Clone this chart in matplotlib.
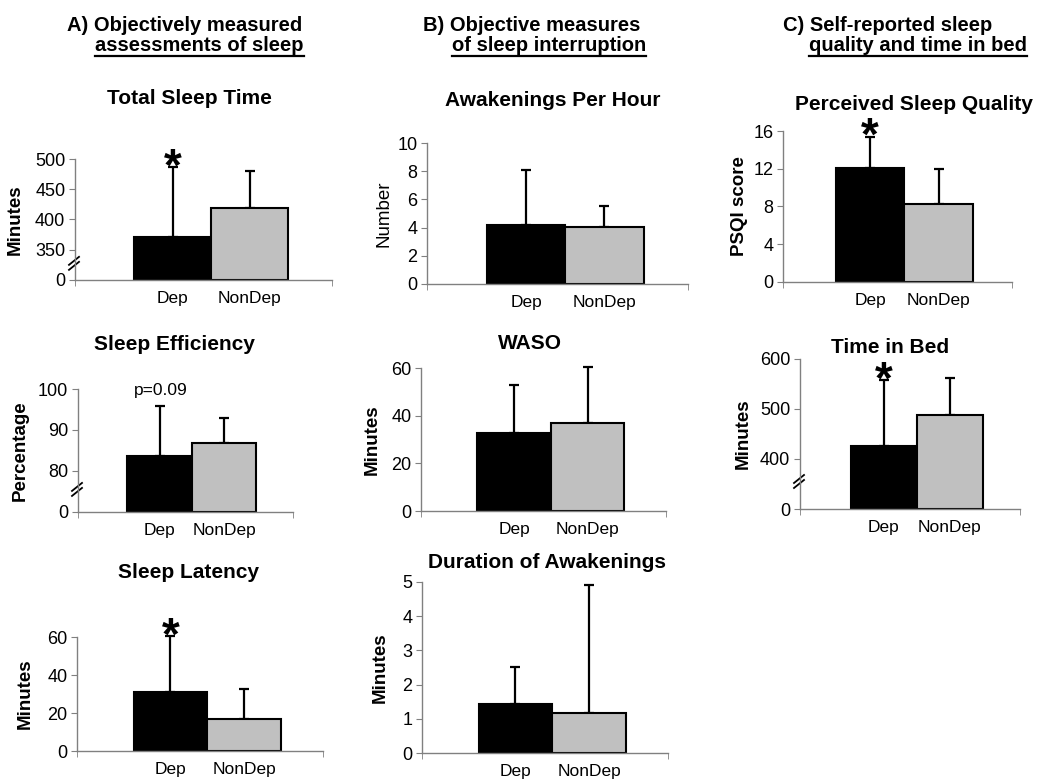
import numpy as np
import matplotlib
matplotlib.use("Agg")
import matplotlib.pyplot as plt
from matplotlib.lines import Line2D

plt.rcParams['font.family'] = ['Liberation Sans', 'DejaVu Sans']

W, H = 1050, 783

# data: [Dep, NonDep] means and upper SD for each panel
groups = ["Dep", "NonDep"]
titles = ["Total Sleep Time", "Sleep Efficiency", "Sleep Latency",
          "Awakenings Per Hour", "WASO", "Duration of Awakenings",
          "Perceived Sleep Quality", "Time in Bed"]
ylabels = ["Minutes", "Percentage", "Minutes",
           "Number", "Minutes", "Minutes",
           "PSQI score", "Minutes"]
means = [[371, 418.5], [83.7, 86.8], [31.1, 16.8],
         [4.17, 4.03], [32.9, 37.1], [1.43, 1.18],
         [12.05, 8.3], [425, 488]]
sds = [[115, 62], [12.2, 6.1], [29.4, 15.9],
       [3.89, 1.47], [19.8, 23.4], [1.08, 3.74],
       [3.32, 3.7], [132, 74]]
yticks = [[0, 350, 400, 450, 500], [0, 80, 90, 100], [0, 20, 40, 60],
          [0, 2, 4, 6, 8, 10], [0, 20, 40, 60], [0, 1, 2, 3, 4, 5],
          [0, 4, 8, 12, 16], [0, 400, 500, 600]]
breaks = [300, 70, None, None, None, None, None, 300]   # axis break: values below collapse
marks = ["*", "p=0.09", "*", None, None, None, "*", "*"]

headers = [("A) Objectively measured", "assessments of sleep"),
           ("B) Objective measures", "of sleep interruption"),
           ("C) Self-reported sleep", "quality and time in bed")]

# layout in pixels: axes box (left, top, right, bottom), title center, ylabel left edge
boxes = [(75, 159, 332, 280), (78, 389, 293, 512), (77, 637, 323, 751),
         (427, 143, 688, 284), (421, 368, 666, 511), (422, 582, 668, 753),
         (783, 131, 1012, 282), (800, 359, 1020, 509)]
title_pos = [(189, 99), (174, 345), (188, 572), (553, 100), (530, 343),
             (547, 563), (914, 104), (890, 347)]
ylab_x = [7, 12, 17, 375, 364, 372, 731, 735]
header_pos = [((67, 31), (95, 51)), ((423, 31), (452, 51)), ((783, 31), (809, 51))]

fig = plt.figure(figsize=(W / 100, H / 100), dpi=100)
fig.patch.set_facecolor("white")

gray = "#808080"
xpos = np.array([0.38, 0.68])
bw = 0.3


def make_scale(lo):
    eps = 1e-4

    def fwd(v):
        v = np.asarray(v, dtype=float)
        return np.where(v >= lo, v, lo + (v - lo) * eps)

    def inv(v):
        v = np.asarray(v, dtype=float)
        return np.where(v >= lo, v, lo + (v - lo) / eps)
    return fwd, inv


for i in range(8):
    l, t, r, b = boxes[i]
    ax = fig.add_axes([l / W, 1 - b / H, (r - l) / W, (b - t) / H])
    lo = breaks[i]
    if lo is not None:
        fwd, inv = make_scale(lo)
        ax.set_yscale("function", functions=(fwd, inv))

    ax.bar(xpos, means[i], width=bw, color=["black", "#c0c0c0"],
           edgecolor="black", linewidth=1.5, zorder=2)
    eb = ax.errorbar(xpos, means[i], yerr=[np.zeros(2), sds[i]], fmt="none",
                     ecolor="black", elinewidth=1.6, capsize=3.3, capthick=1.6, zorder=1)
    for art in eb.get_children():
        art.set_clip_on(False)

    ax.set_xlim(0, 1)
    ax.set_ylim(0, yticks[i][-1])
    ax.set_yticks(yticks[i])
    ax.set_yticklabels([str(v) for v in yticks[i]])
    ax.yaxis.set_minor_locator(matplotlib.ticker.NullLocator())
    ax.set_xticks(xpos)
    ax.set_xticklabels(groups, fontsize=12.5)
    ax.set_xticks([0, 1], minor=True)
    ax.tick_params(axis="x", which="major", length=0, pad=8)
    ax.tick_params(axis="x", which="minor", length=4, color=gray, direction="out")
    ax.tick_params(axis="y", length=4, color=gray, direction="out", labelsize=13, pad=3)
    for s in ["top", "right"]:
        ax.spines[s].set_visible(False)
    for s in ["left", "bottom"]:
        ax.spines[s].set_color(gray)
        ax.spines[s].set_linewidth(1)
    ax.set_facecolor("none")

    ax.set_ylabel(ylabels[i], fontsize=13.5,
                  fontweight="normal" if ylabels[i] == "Number" else "bold")
    ax.yaxis.set_label_coords((ylab_x[i] - l) / (r - l), 0.5)
    ax.yaxis.label.set_verticalalignment("top")

    fig.text(title_pos[i][0] / W, 1 - title_pos[i][1] / H, titles[i],
             fontsize=15, fontweight="bold", ha="center", va="center")

    top_dep = means[i][0] + sds[i][0]
    if marks[i] == "*":
        ax.annotate("*", (xpos[0], top_dep), xytext=(0, -9.5), textcoords="offset points",
                    ha="center", va="baseline", fontsize=33, fontweight="bold",
                    annotation_clip=False)
    elif marks[i]:
        ax.annotate(marks[i], (xpos[0], top_dep), xytext=(1, 8), textcoords="offset points",
                    ha="center", va="baseline", fontsize=12.5, annotation_clip=False)

    if lo is not None:
        # break marks "//" on the y axis between 0 and the first tick
        ymid = lo + 0.55 * (yticks[i][1] - lo)
        yfrac = (fwd(ymid) - fwd(0)) / (fwd(yticks[i][-1]) - fwd(0))
        wpx, hpx = r - l, b - t
        for dy in (-2.5, 2.5):
            xs = np.array([-5, 5]) / wpx
            ys = yfrac + (np.array([-4, 4]) + dy) / hpx
            ax.plot(xs - 1 / wpx, ys, color="black", lw=1.3, transform=ax.transAxes,
                    clip_on=False)

fig.canvas.draw()
renderer = fig.canvas.get_renderer()
for (line1, line2), ((x1, y1), (x2, y2)) in zip(headers, header_pos):
    fig.text(x1 / W, 1 - y1 / H, line1, fontsize=14.5, fontweight="bold",
             ha="left", va="baseline")
    t2 = fig.text(x2 / W, 1 - y2 / H, line2, fontsize=14.5, fontweight="bold",
                  ha="left", va="baseline")
    bb = t2.get_window_extent(renderer)
    uy = 1 - (y2 + 5) / H
    fig.add_artist(Line2D([bb.x0 / W, bb.x1 / W], [uy, uy], color="black", lw=1.6,
                          transform=fig.transFigure))

fig.savefig("out.png", dpi=100)
